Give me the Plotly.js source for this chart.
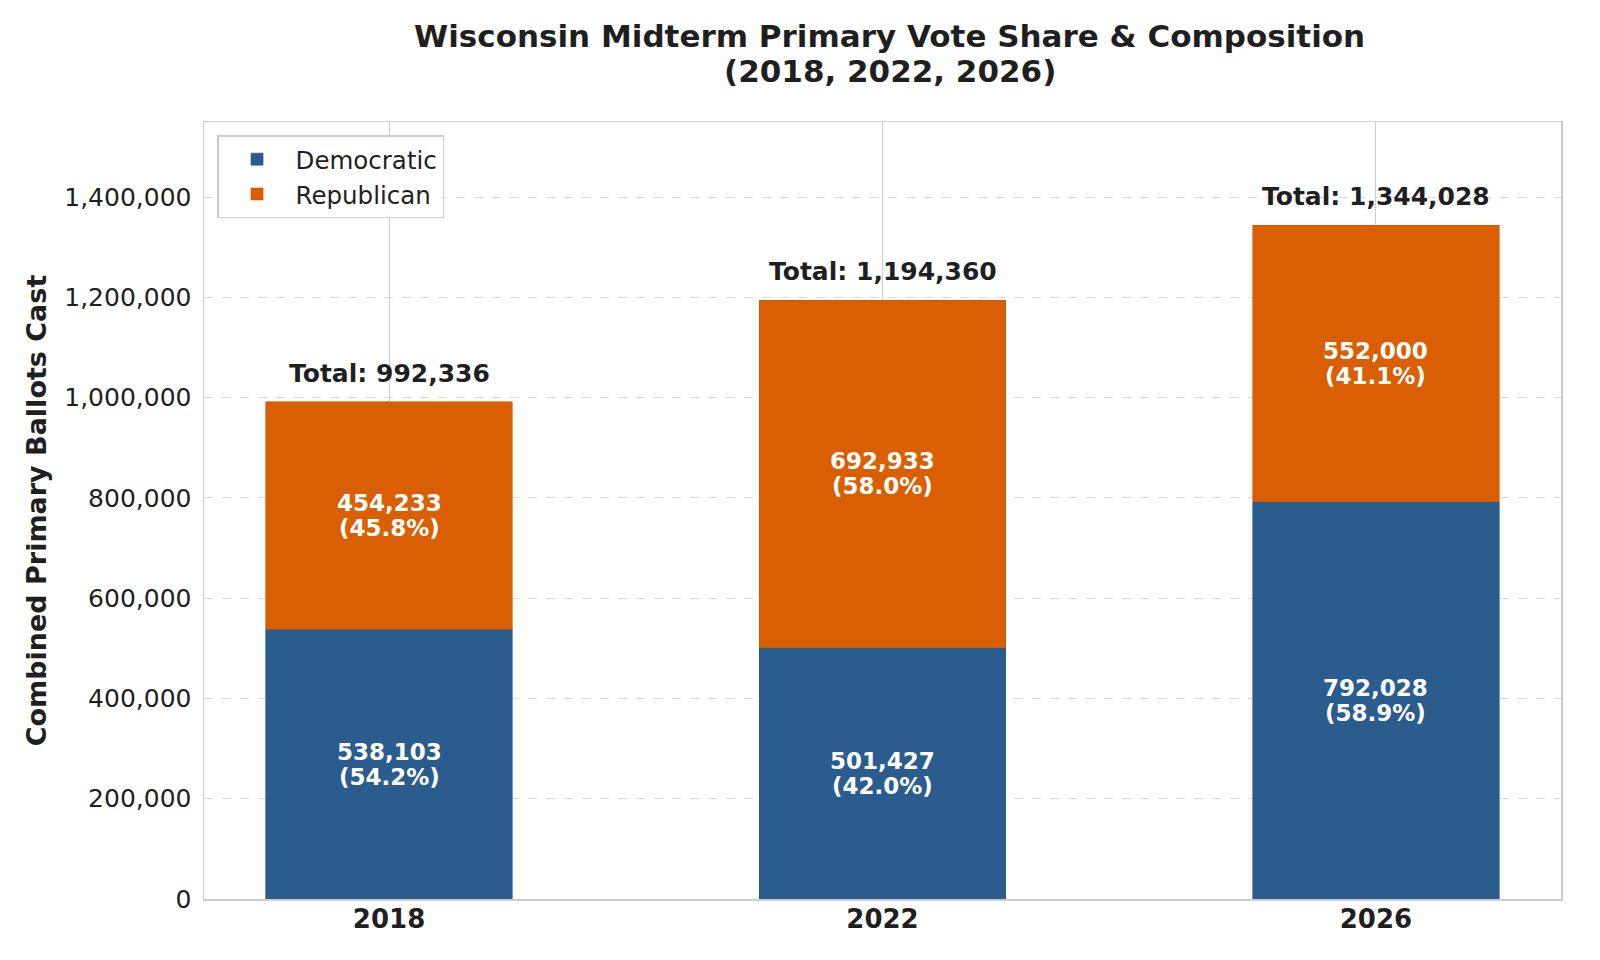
<!DOCTYPE html>
<html>
<head>
<meta charset="utf-8">
<script src="https://cdn.plot.ly/plotly-3.0.1.min.js"></script>
<style>
  html, body { margin: 0; padding: 0; background: #fff; }
  #chart { width: 1600px; height: 960px; }
</style>
</head>
<body>
<div id="chart"></div>
<script>
// data
const years = ['2018', '2022', '2026'];
const democratic = [538103, 501427, 792028];
const republican = [454233, 692933, 552000];
const yTicks = [0, 200000, 400000, 600000, 800000, 1000000, 1200000, 1400000];

const blue = '#2b5c8e';
const orange = '#d95f02';
const font = 'DejaVu Sans, sans-serif';

const totals = years.map((_, i) => democratic[i] + republican[i]);
const fmt = v => String(v).replace(/\B(?=(\d{3})+(?!\d))/g, ',');
const pct = (v, t) => (v / t * 100).toFixed(1) + '%';

const traces = [
    {
        type: 'bar',
        name: 'Democratic',
        x: years,
        y: democratic,
        width: 0.5,
        marker: { color: blue, line: { color: '#24517f', width: 0.6 } },
        hoverinfo: 'skip'
    },
    {
        type: 'bar',
        name: 'Republican',
        x: years,
        y: republican,
        width: 0.5,
        marker: { color: orange, line: { color: '#c95600', width: 0.6 } },
        hoverinfo: 'skip'
    }
];

// two-line label centred in a segment (one annotation per line for tighter spacing)
function segLabel(i, yMid, value) {
    const f = { family: font, size: 23, color: '#ffffff' };
    return [
        { xref: 'x', yref: 'y', x: i, y: yMid, yshift: 12.5, showarrow: false,
          text: '<b>' + fmt(value) + '</b>', font: f },
        { xref: 'x', yref: 'y', x: i, y: yMid, yshift: -12.5, showarrow: false,
          text: '<b>(' + pct(value, totals[i]) + ')</b>', font: f }
    ];
}

const annotations = [];
years.forEach((yr, i) => {
    annotations.push(...segLabel(i, democratic[i] / 2, democratic[i]));
    annotations.push(...segLabel(i, democratic[i] + republican[i] / 2, republican[i]));
    annotations.push({
        xref: 'x', yref: 'y',
        x: i, y: totals[i],
        text: '<b>Total: ' + fmt(totals[i]) + '</b>',
        showarrow: false,
        yanchor: 'bottom',
        yshift: 12,
        font: { family: font, size: 25, color: '#1f1f1f' }
    });
});

// second title line
annotations.push({
    xref: 'paper', yref: 'paper',
    x: 0.5055, y: 1.065,
    xanchor: 'center', yanchor: 'middle',
    text: '<b>(2018, 2022, 2026)</b>',
    showarrow: false,
    font: { family: font, size: 31, color: '#1f1f1f' }
});

const layout = {
    width: 1600,
    height: 960,
    paper_bgcolor: '#ffffff',
    plot_bgcolor: '#ffffff',
    margin: { l: 204, r: 39, t: 122, b: 61 },
    barmode: 'stack',
    font: { family: font, size: 25, color: '#1f1f1f' },
    title: {
        text: '<b>Wisconsin Midterm Primary Vote Share &amp; Composition</b>',
        x: 0.556,
        xanchor: 'center',
        y: 0.962,
        yanchor: 'middle',
        font: { family: font, size: 31, color: '#1f1f1f' }
    },
    xaxis: {
        type: 'category',
        range: [-0.375, 2.375],
        showgrid: true,
        gridcolor: '#cccccc',
        gridwidth: 1,
        showline: true,
        linecolor: '#cccccc',
        linewidth: 1.5,
        mirror: true,
        ticks: '',
        ticklabelstandoff: -4,
        tickfont: { family: font, size: 26, color: '#1f1f1f', weight: 'bold' },
        zeroline: false
    },
    yaxis: {
        range: [0, 1550000],
        tickvals: yTicks,
        tickformat: ',d',
        showgrid: true,
        gridcolor: '#d9d9d9',
        griddash: 'dash',
        gridwidth: 1,
        showline: true,
        linecolor: '#cccccc',
        linewidth: 1.5,
        mirror: true,
        ticks: '',
        ticklabelstandoff: 6,
        zeroline: false,
        tickfont: { family: font, size: 25, color: '#1f1f1f' },
        title: {
            text: '<b>Combined Primary Ballots Cast</b>',
            standoff: 10,
            font: { family: font, size: 27, color: '#1f1f1f' }
        }
    },
    showlegend: true,
    legend: {
        x: 0.0096,
        y: 0.983,
        xanchor: 'left',
        yanchor: 'top',
        bgcolor: 'rgba(255,255,255,0.85)',
        bordercolor: '#cccccc',
        borderwidth: 1.5,
        traceorder: 'normal',
        itemwidth: 67,
        font: { family: font, size: 24.5, color: '#1f1f1f' }
    },
    annotations: annotations
};

Plotly.newPlot('chart', traces, layout, { displayModeBar: false, staticPlot: true });
</script>
</body>
</html>
